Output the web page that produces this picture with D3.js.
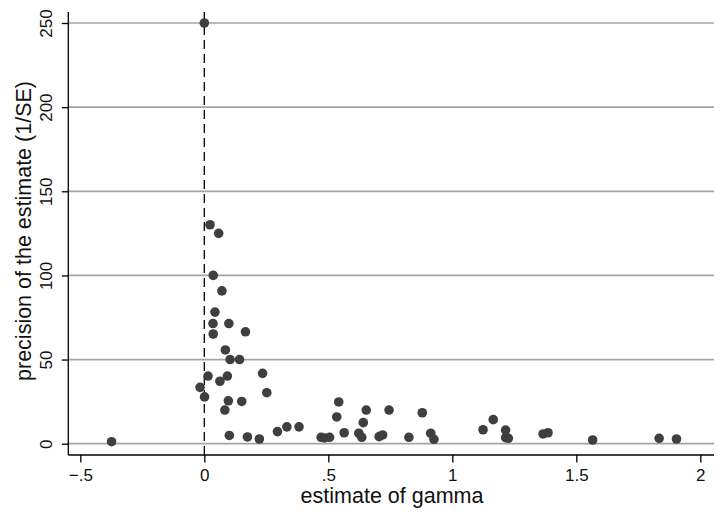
<!DOCTYPE html>
<html>
<head>
<meta charset="utf-8">
<script src="https://cdn.jsdelivr.net/npm/d3@7"></script>
<style>
  body { margin: 0; background: #fff; }
  text { font-family: "Liberation Sans", Arial, Helvetica, sans-serif; fill: #111; }
</style>
</head>
<body>
<div id="chart"></div>
<script>

// Data
var gamma = [0.000, 0.023, 0.058, 0.036, 0.071, 0.043, 0.035, 0.099, 0.036, 0.166,
             0.085, 0.104, 0.142, 0.015, 0.093, 0.063, 0.235, -0.017, 0.001, 0.252,
             0.097, 0.151, 0.083, 0.101, 0.174, 0.222, 0.295, 0.333, 0.382, 0.471,
             0.484, 0.505, 0.542, 0.534, 0.564, 0.653, 0.641, 0.623, 0.635, 0.745,
             0.705, 0.719, 0.825, 0.879, 0.913, 0.926, 1.124, 1.165, 1.215, 1.215,
             1.226, 1.366, 1.386, 1.566, 1.834, 1.904, -0.374];
var precision = [250, 130.1, 125.0, 100.0, 90.8, 78.2, 71.4, 71.4, 65.2, 66.5,
                 55.7, 50.0, 50.0, 40.2, 40.2, 37.1, 41.8, 33.5, 27.8, 30.3,
                 25.5, 25.1, 20.0, 4.9, 4.0, 2.8, 7.2, 10.0, 10.0, 3.8,
                 3.4, 3.8, 24.8, 15.9, 6.5, 20.0, 12.5, 6.2, 3.8, 20.0,
                 4.2, 5.2, 3.8, 18.4, 6.2, 2.6, 8.3, 14.3, 8.1, 3.6,
                 3.2, 5.8, 6.5, 2.2, 3.2, 2.8, 1.2];

var xTicks = [-0.5, 0, 0.5, 1, 1.5, 2];
var yTicks = [0, 50, 100, 150, 200, 250];

var data = gamma.map(function(g, i) { return {gamma: g, precision: precision[i]}; });

// Chart frame
var width = 722, height = 514;
var plot = {left: 68.3, right: 714, top: 12, bottom: 455};

var x = d3.scaleLinear().domain([-0.5, 2]).range([80.3, 700.3]);
var y = d3.scaleLinear().domain([0, 250]).range([443.7, 23]);

// Stata style labels: ".5", "−.5"
function fmt(v) {
  var s = String(v);
  s = s.replace(/^0\./, ".").replace(/^-0\./, "\u2212.");
  return s;
}

var svg = d3.select("#chart").append("svg")
    .attr("width", width)
    .attr("height", height);

// Gridlines
svg.append("g")
    .selectAll("line")
    .data(yTicks)
  .enter().append("line")
    .attr("x1", plot.left)
    .attr("x2", plot.right)
    .attr("y1", function(d) { return y(d); })
    .attr("y2", function(d) { return y(d); })
    .attr("stroke", "#a4a4a4")
    .attr("stroke-width", 1.7);

// Dashed reference line at zero
svg.append("line")
    .attr("x1", x(0))
    .attr("x2", x(0))
    .attr("y1", plot.top)
    .attr("y2", plot.bottom)
    .attr("stroke", "#000")
    .attr("stroke-width", 1.3)
    .attr("stroke-dasharray", "9,5");

// Axes
var xAxis = d3.axisBottom(x)
    .tickValues(xTicks)
    .tickSize(7.5)
    .tickPadding(2)
    .tickFormat(fmt);

var gx = svg.append("g")
    .attr("transform", "translate(0," + plot.bottom + ")")
    .call(xAxis);
gx.select(".domain")
    .attr("d", "M" + plot.left + ",0H" + plot.right)
    .attr("stroke-width", 1.3);
gx.selectAll(".tick line").attr("stroke-width", 1.3);
gx.selectAll(".tick text")
    .attr("font-size", 17)
    .attr("y", 26)
    .attr("dy", 0)
    .style("font-family", "'Liberation Sans', Arial, sans-serif");

var yAxis = d3.axisLeft(y)
    .tickValues(yTicks)
    .tickSize(6.5)
    .tickFormat(fmt);

var gy = svg.append("g")
    .attr("transform", "translate(" + plot.left + ",0)")
    .call(yAxis);
gy.select(".domain")
    .attr("d", "M0," + plot.top + "V" + plot.bottom)
    .attr("stroke-width", 1.3);
gy.selectAll(".tick line").attr("stroke-width", 1.3);
gy.selectAll(".tick text")
    .attr("font-size", 17)
    .attr("x", 0)
    .attr("dy", 0)
    .attr("text-anchor", "middle")
    .attr("transform", "translate(-16.5,0) rotate(-90)")
    .style("font-family", "'Liberation Sans', Arial, sans-serif");

// Points
svg.append("g")
    .selectAll("circle")
    .data(data)
  .enter().append("circle")
    .attr("cx", function(d) { return x(d.gamma); })
    .attr("cy", function(d) { return y(d.precision); })
    .attr("r", 4.8)
    .attr("fill", "#3f3f3f");

// Axis titles
svg.append("text")
    .attr("x", 392)
    .attr("y", 503)
    .attr("text-anchor", "middle")
    .attr("font-size", 21.5)
    .text("estimate of gamma");

svg.append("text")
    .attr("transform", "translate(30.5,231) rotate(-90)")
    .attr("text-anchor", "middle")
    .attr("font-size", 21.5)
    .text("precision of the estimate (1/SE)");

</script>
</body>
</html>
